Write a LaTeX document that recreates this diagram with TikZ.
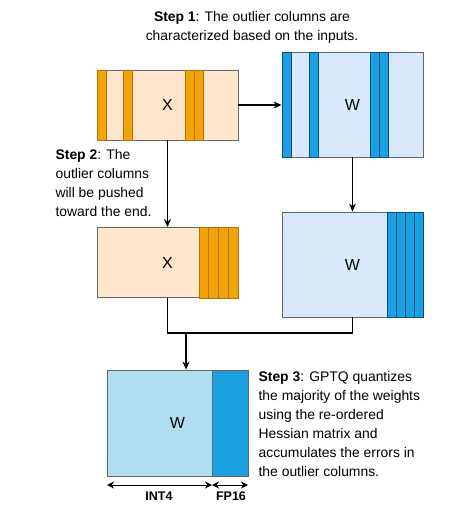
\documentclass[tikz,border=0pt]{standalone}
\usepackage{fontspec}
\setmainfont{Liberation Sans}
\usetikzlibrary{arrows.meta}

\definecolor{xfill}{HTML}{FFE6CC}
\definecolor{xcol}{HTML}{F0A30A}
\definecolor{xcoldraw}{HTML}{BD7000}
\definecolor{wfill}{HTML}{DAE8FC}
\definecolor{wcol}{HTML}{1BA1E2}
\definecolor{wcoldraw}{HTML}{0A4F7A}
\definecolor{qfill}{HTML}{B1DDF0}
\definecolor{boxdraw}{HTML}{666666}

\begin{document}
\begin{tikzpicture}[x=1pt,y=-1pt,>={Stealth[length=8pt,width=7pt]},line width=1.2pt,
  mat/.style={rectangle,draw=boxdraw,line width=0.9pt,inner sep=0pt,
    minimum width=141pt,font=\fontsize{16}{18}\selectfont},
  xmat/.style={mat,fill=xfill,minimum height=70pt},
  wmat/.style={mat,fill=wfill,minimum height=105pt},
  xstripe/.style={fill=xcol,draw=xcoldraw,line width=0.6pt},
  wstripe/.style={fill=wcol,draw=wcoldraw,line width=0.6pt},
  matlabel/.style={font=\fontsize{16}{18}\selectfont},
  note/.style={inner sep=0pt,align=left,font=\fontsize{13.9}{19}\selectfont},
  dim/.style={{Stealth[length=7pt,width=7pt]}-{Stealth[length=7pt,width=7pt]},line width=1pt},
  dimlabel/.style={font=\bfseries\fontsize{12.5}{14}\selectfont}]

 \useasboundingbox (0,0) rectangle (474,514);

 % boxes
 \node[xmat] (xtop) at (167.5,105) {};
 \node[wmat] (wtop) at (352.5,104.5) {};
 \node[xmat] (xmid) at (167.5,262.5) {};
 \node[wmat] (wmid) at (352.5,264.5) {};
 \node[mat,fill=qfill,minimum height=106pt] (wbot) at (177.5,423) {};

 % outlier columns
 \foreach \sx in {97,123.5,185,194}
   \draw[xstripe] (\sx,70) rectangle ++(9,70);
 \foreach \sx in {282,309,370.5,379.5}
   \draw[wstripe] (\sx,52) rectangle ++(9,105);
 \foreach \sx in {199,208.75,218.5,228.25}
   \draw[xstripe] (\sx,227) rectangle ++(9.75,71);
 \foreach \sx in {387,396,405,414}
   \draw[wstripe] (\sx,212) rectangle ++(9,105);
 \draw[wstripe,draw=boxdraw,line width=0.9pt] (212,370) rectangle (248,476);

 % labels
 \node[matlabel] (xtoplabel) at (xtop) {X};
 \node[matlabel] (wtoplabel) at (wtop) {W};
 \node[matlabel] (xmidlabel) at (xmid) {X};
 \node[matlabel] (wmidlabel) at (wmid) {W};
 \node[matlabel] (wbotlabel) at (wbot) {W};

 % connectors
 \coordinate (merge) at (186,333);
 \draw[->] (xtop.east) -- (wtop.west |- xtop.east);
 \draw[->] (xtop.south) -- (xmid.north);
 \draw[->] (wtop.south) -- (wmid.north);
 \draw (xmid.south) |- (merge);
 \draw (wmid.south) |- (merge);
 \draw[->] (merge) -- (merge |- wbot.north);

 % widths
 \coordinate (int4a) at (107,485);
 \coordinate (int4b) at (212,485);
 \coordinate (fp16b) at (248,485);
 \draw[dim] (int4a) -- (int4b);
 \draw[dim] (int4b) -- (fp16b);
 \node[dimlabel] (int4) at (159,496) {INT4};
 \node[dimlabel] (fp16) at (231,496) {FP16};

 % steps
 \node[note,align=center] (step1) at (252,27)
   {\textbf{Step 1}: The outlier columns are\\characterized based on the inputs.};
 \node[note,anchor=west] (step2) at (55,183)
   {\textbf{Step 2}: The\\outlier columns\\will be pushed\\toward the end.};
 \node[note,anchor=west] (step3) at (258,424.5)
   {\textbf{Step 3}: GPTQ quantizes\\the majority of the weights\\using the re-ordered\\Hessian matrix and\\accumulates the errors in\\the outlier columns.};

\end{tikzpicture}
\end{document}
